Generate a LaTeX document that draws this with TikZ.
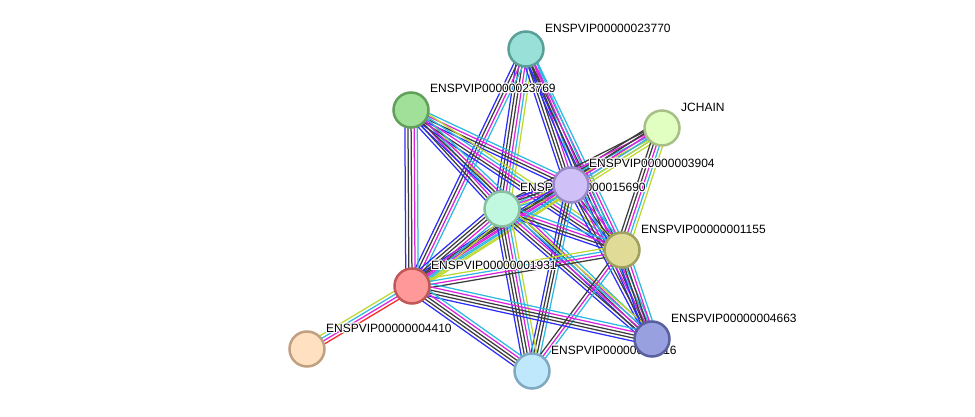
\documentclass[tikz,border=0pt]{standalone}
\usepackage{fontspec}
\setmainfont{Liberation Sans}
\usepackage[copies]{contour}
\contourlength{0.9pt}
\contournumber{16}
\usetikzlibrary{calc}
\pgfdeclarelayer{bg}
\pgfsetlayers{bg,main}
\definecolor{eb}{RGB}{45,45,250}
\definecolor{ek}{RGB}{60,60,60}
\definecolor{em}{RGB}{220,35,220}
\definecolor{ec}{RGB}{45,185,225}
\definecolor{ey}{RGB}{190,215,45}
\definecolor{er}{RGB}{250,40,40}
\tikzset{
  prot/.style={circle, minimum size=35pt, inner sep=0pt, line width=2.5pt},
  lbl/.style={anchor=west, inner sep=0pt, font=\fontsize{12}{14}\selectfont, text=black},
  edge/.style={line width=1.25pt}
}
\newcommand\lbltext[1]{\contour{white}{#1}}
\newcommand\edgebundle[3]{%
  \foreach \col [count=\n] in {#3} {\xdef\bundlen{\n}}%
  \foreach \col [count=\i] in {#3} {%
    \pgfmathsetmacro\off{(\i-(\bundlen+1)/2)*3.1}%
    \draw[edge,draw=\col] ($(#1.center)!\off pt!90:(#2.center)$) -- ($(#2.center)!\off pt!-90:(#1.center)$);
  }%
}
\begin{document}
\begin{tikzpicture}[x=1pt,y=-1pt]
\useasboundingbox (0,0) rectangle (975,417);
% nodes
\node[prot, draw={rgb,255:red,90;green,160;blue,152}, fill={rgb,255:red,152;green,224;blue,216}] (A) at (526,49) {};
\node[lbl] (Al) at (545,29) {\lbltext{ENSPVIP00000023770}};
\node[prot, draw={rgb,255:red,96;green,160;blue,88}, fill={rgb,255:red,160;green,224;blue,152}] (B) at (411,110) {};
\node[lbl] (Bl) at (430,89) {\lbltext{ENSPVIP00000023769}};
\node[prot, draw={rgb,255:red,168;green,192;blue,136}, fill={rgb,255:red,224;green,255;blue,192}] (J) at (662,128) {};
\node[lbl] (Jl) at (681,108) {\lbltext{JCHAIN}};
\node[prot, draw={rgb,255:red,136;green,192;blue,160}, fill={rgb,255:red,192;green,248;blue,224}] (D) at (502,209) {};
\node[lbl] (Dl) at (520,188) {\lbltext{ENSPVIP00000015690}};
\node[prot, draw={rgb,255:red,152;green,136;blue,200}, fill={rgb,255:red,208;green,192;blue,248}] (C) at (571,185) {};
\node[lbl] (Cl) at (589,164) {\lbltext{ENSPVIP00000003904}};
\node[prot, draw={rgb,255:red,160;green,160;blue,96}, fill={rgb,255:red,224;green,220;blue,152}] (E) at (622,250) {};
\node[lbl] (El) at (641,230) {\lbltext{ENSPVIP00000001155}};
\node[prot, draw={rgb,255:red,192;green,88;blue,88}, fill={rgb,255:red,255;green,152;blue,152}] (F) at (412,286) {};
\node[lbl] (Fl) at (431,266) {\lbltext{ENSPVIP00000001931}};
\node[prot, draw={rgb,255:red,192;green,160;blue,128}, fill={rgb,255:red,255;green,224;blue,192}] (H) at (307,349) {};
\node[lbl] (Hl) at (326,329) {\lbltext{ENSPVIP00000004410}};
\node[prot, draw={rgb,255:red,128;green,168;blue,192}, fill={rgb,255:red,192;green,232;blue,252}] (K) at (532,371) {};
\node[lbl] (Kl) at (551,351) {\lbltext{ENSPVIP00000012516}};
\node[prot, draw={rgb,255:red,88;green,96;blue,160}, fill={rgb,255:red,152;green,160;blue,224}] (G) at (652,339) {};
\node[lbl] (Gl) at (671,319) {\lbltext{ENSPVIP00000004663}};
% edges
\begin{pgfonlayer}{bg}
\edgebundle{A}{D}{eb,ek,ek,em,ec,ey}
\edgebundle{A}{C}{eb,ek,ek,em,ec}
\edgebundle{A}{E}{eb,ek,em,ec}
\edgebundle{A}{G}{eb,ek,em,ec}
\edgebundle{A}{F}{eb,ek,em,ec}
\edgebundle{B}{F}{eb,ek,ek,em,ec}
\edgebundle{B}{D}{eb,ek,em,ec,ey}
\edgebundle{B}{C}{eb,ek,em,ec}
\edgebundle{B}{E}{eb,ek,em,ec,ey}
\edgebundle{B}{G}{eb,ek,em,ec}
\edgebundle{J}{C}{ek,ek,em,em,ec,ey}
\edgebundle{J}{D}{ek,em,ec,ey}
\edgebundle{J}{F}{ek,em,ec,ey}
\edgebundle{J}{E}{ek,ek,em,ec,ey}
\edgebundle{C}{D}{eb,ek,em,ec,ey}
\edgebundle{C}{E}{eb,ek,em,ec}
\edgebundle{C}{F}{eb,ek,em,ec,ey}
\edgebundle{C}{G}{eb,ek,em,ec}
\edgebundle{C}{K}{eb,ek,ek,ec}
\edgebundle{D}{E}{eb,ek,em,ec}
\edgebundle{D}{F}{eb,ek,ek,em,ec,ey}
\edgebundle{D}{G}{eb,ek,em,ec,ey}
\edgebundle{D}{K}{eb,ek,ek,em,ec,ey}
\edgebundle{E}{F}{ey,ec,em,ek}
\edgebundle{E}{G}{eb,ek,ek,em,ec}
\edgebundle{E}{K}{ek,em,ec}
\edgebundle{F}{G}{eb,ek,ek,em,ec}
\edgebundle{F}{K}{eb,ek,ek,em,ec}
\edgebundle{F}{H}{ey,ec,em,er}
\end{pgfonlayer}
\end{tikzpicture}
\end{document}
